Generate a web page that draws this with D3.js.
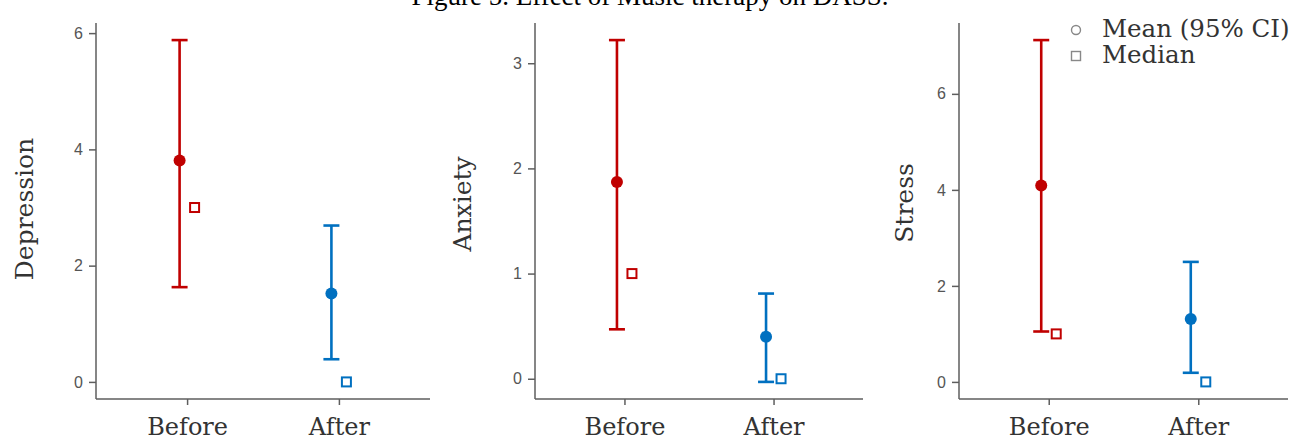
<!DOCTYPE html>
<html>
<head>
<meta charset="utf-8">
<script src="https://cdn.jsdelivr.net/npm/d3@7"></script>
<style>
  body { margin: 0; background: #fff; }
  svg { display: block; }
</style>
</head>
<body>
<svg id="chart"></svg>
<script>
// data
var categories = ["Before", "After"];
var measures = ["Depression", "Anxiety", "Stress"];

var depressionMean   = [3.81, 1.52];
var depressionLow    = [1.63, 0.39];
var depressionHigh   = [5.88, 2.69];
var depressionMedian = [3, 0];

var anxietyMean   = [1.87, 0.40];
var anxietyLow    = [0.47, -0.03];
var anxietyHigh   = [3.22, 0.81];
var anxietyMedian = [1, 0];

var stressMean   = [4.09, 1.31];
var stressLow    = [1.05, 0.19];
var stressHigh   = [7.12, 2.50];
var stressMedian = [1, 0];

var depressionTicks = [0, 2, 4, 6];
var anxietyTicks    = [0, 1, 2, 3];
var stressTicks     = [0, 2, 4, 6];

var legendLabels = ["Mean (95% CI)", "Median"];
var title = "Figure 5. Effect of Music therapy on DASS.";

var colors = ["#c00000", "#0070c0"];

var W = 1293, H = 438;
var svg = d3.select("#chart").attr("width", W).attr("height", H);

var panels = [
  { name: measures[0], mean: depressionMean, low: depressionLow, high: depressionHigh, median: depressionMedian, ticks: depressionTicks,
    x0: 96, x1: 430, labX: 33, labY: 209 },
  { name: measures[1], mean: anxietyMean, low: anxietyLow, high: anxietyHigh, median: anxietyMedian, ticks: anxietyTicks,
    x0: 535, x1: 863, labX: 471, labY: 204 },
  { name: measures[2], mean: stressMean, low: stressLow, high: stressHigh, median: stressMedian, ticks: stressTicks,
    x0: 959, x1: 1288, labX: 913, labY: 203 }
];

var plotTop = 23, plotBottom = 399;

panels.forEach(function(p) {
  var rows = categories.map(function(c, i) {
    return { cat: c, mean: p.mean[i], low: p.low[i], high: p.high[i], median: p.median[i], col: colors[i] };
  });

  // ggplot style 5% expansion
  var lo = d3.min(rows, function(d) { return Math.min(d.low, d.median); });
  var hi = d3.max(rows, function(d) { return Math.max(d.high, d.median); });
  var pad = (hi - lo) * 0.05;

  var y = d3.scaleLinear().domain([lo - pad, hi + pad]).range([plotBottom, plotTop]);
  var x = d3.scalePoint().domain(categories).range([p.x0, p.x1]).padding(0.6);

  var g = svg.append("g");

  // y axis
  var yAxis = g.append("g")
    .attr("transform", "translate(" + p.x0 + ",0)")
    .call(d3.axisLeft(y).tickValues(p.ticks).tickFormat(d3.format("d"))
      .tickSize(7).tickPadding(6).tickSizeOuter(0));
  yAxis.select(".domain").attr("d", "M0," + plotTop + "V" + plotBottom);

  // x axis
  var xAxis = g.append("g")
    .attr("transform", "translate(0," + plotBottom + ")")
    .call(d3.axisBottom(x).tickSize(6).tickPadding(13).tickSizeOuter(0));
  xAxis.select(".domain").attr("d", "M" + p.x0 + ",0H" + p.x1);

  g.selectAll(".domain").attr("stroke", "#5e5e5e").attr("stroke-width", 1.5);
  g.selectAll(".tick line").attr("stroke", "#5e5e5e").attr("stroke-width", 1.5);
  yAxis.selectAll(".tick text")
    .attr("font-family", "'Liberation Sans', Arial, sans-serif")
    .attr("font-size", 16).attr("fill", "#555");
  xAxis.selectAll(".tick text")
    .attr("font-family", "'DejaVu Serif', serif")
    .attr("font-size", 24).attr("fill", "#333");

  // y label
  g.append("text")
    .attr("transform", "translate(" + p.labX + "," + p.labY + ") rotate(-90)")
    .attr("text-anchor", "middle")
    .attr("font-family", "'DejaVu Serif', serif")
    .attr("font-size", 25).attr("fill", "#333")
    .text(p.name);

  // error bars
  var eb = g.selectAll(".eb").data(rows).enter().append("g")
    .attr("stroke", function(d) { return d.col; })
    .attr("stroke-width", 2.6);
  eb.append("line")
    .attr("x1", function(d) { return x(d.cat) - 7.5; })
    .attr("x2", function(d) { return x(d.cat) - 7.5; })
    .attr("y1", function(d) { return y(d.low); })
    .attr("y2", function(d) { return y(d.high); });
  eb.append("line")
    .attr("x1", function(d) { return x(d.cat) - 15.5; })
    .attr("x2", function(d) { return x(d.cat) + 0.5; })
    .attr("y1", function(d) { return y(d.high); })
    .attr("y2", function(d) { return y(d.high); });
  eb.append("line")
    .attr("x1", function(d) { return x(d.cat) - 15.5; })
    .attr("x2", function(d) { return x(d.cat) + 0.5; })
    .attr("y1", function(d) { return y(d.low); })
    .attr("y2", function(d) { return y(d.low); });

  g.selectAll(".mean").data(rows).enter().append("circle")
    .attr("cx", function(d) { return x(d.cat) - 7.5; })
    .attr("cy", function(d) { return y(d.mean); })
    .attr("r", 6)
    .attr("fill", function(d) { return d.col; });

  g.selectAll(".med").data(rows).enter().append("rect")
    .attr("x", function(d) { return x(d.cat) + 7.5 - 4.5; })
    .attr("y", function(d) { return y(d.median) - 4.5; })
    .attr("width", 9).attr("height", 9)
    .attr("fill", "#fff")
    .attr("stroke", function(d) { return d.col; })
    .attr("stroke-width", 2);
});

// title (cut off at the top like the source)
svg.append("text")
  .attr("x", 650).attr("y", 5)
  .attr("text-anchor", "middle")
  .attr("font-family", "'Liberation Serif', 'Times New Roman', serif")
  .attr("font-size", 27).attr("fill", "#000")
  .text(title);

// legend
var leg = svg.append("g");
legendLabels.forEach(function(t, i) {
  var ly = 30 + i * 26;
  if (i === 0) {
    leg.append("circle").attr("cx", 1076).attr("cy", ly).attr("r", 4.5)
      .attr("fill", "none").attr("stroke", "#888").attr("stroke-width", 1.4);
  } else {
    leg.append("rect").attr("x", 1071.5).attr("y", ly - 4.5).attr("width", 9).attr("height", 9)
      .attr("fill", "none").attr("stroke", "#888").attr("stroke-width", 1.4);
  }
  leg.append("text").attr("x", 1102).attr("y", ly + 7)
    .attr("font-family", "'DejaVu Serif', serif")
    .attr("font-size", 24.5).attr("fill", "#333")
    .text(t);
});
</script>
</body>
</html>
